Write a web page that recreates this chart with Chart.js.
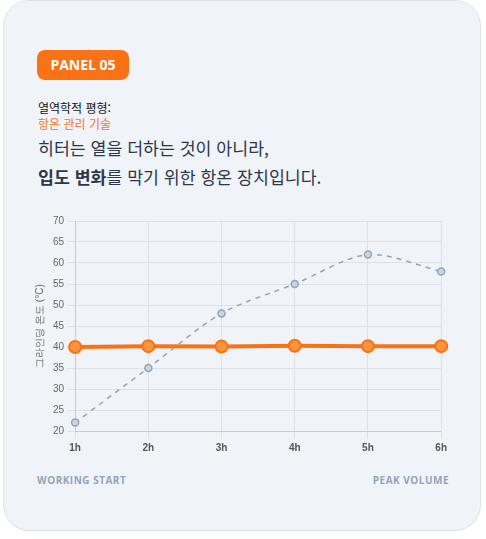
<!DOCTYPE html>
<html lang="ko">
<head>
<meta charset="UTF-8">
<title>Panel 05</title>
<script src="https://cdn.jsdelivr.net/npm/chart.js"></script>
<style>
  body { margin: 0; background: #fff; font-family: "Noto Sans CJK KR", "Noto Sans", sans-serif; }
  .card { position: absolute; left: 3px; top: 0; width: 478px; height: 531px; background: #f0f4f9;
          border: 1px solid #dde3ea; border-radius: 26px; box-sizing: border-box; }
  .badge { position: absolute; left: 33px; top: 49px; width: 92px; height: 30px; background: #f97316; color: #fff;
           border-radius: 8px; font: bold 14px "Open Sans", sans-serif; text-align: center; line-height: 30px; }
  .t1 { position: absolute; left: 34px; top: 98px; font-size: 12px; color: #111; }
  .t2 { position: absolute; left: 34px; top: 114px; font-size: 12px; color: #f97316; }
  .t3 { position: absolute; left: 34px; top: 132px; font-size: 17.3px; color: #2d3748; line-height: 29px; }
  .foot { position: absolute; top: 472px; font: bold 10px "Open Sans", sans-serif; color: #94a3b8; letter-spacing: 0.5px; }
  #wrap { position: absolute; left: 30px; top: 212px; width: 420px; height: 245px; }
</style>
</head>
<body>
<div class="card">
  <div class="badge">PANEL 05</div>
  <div class="t1">열역학적 평형:</div>
  <div class="t2">항온 관리 기술</div>
  <div class="t3">히터는 열을 더하는 것이 아니라,<br><b>입도 변화</b>를 막기 위한 항온 장치입니다.</div>
  <div class="foot" style="left:33px">WORKING START</div>
  <div class="foot" style="right:31px">PEAK VOLUME</div>
</div>
<div id="wrap"><canvas id="c"></canvas></div>
<script>
var hours = ['1h', '2h', '3h', '4h', '5h', '6h'];
var heaterTemp = [40, 40.2, 40.1, 40.3, 40.2, 40.2];
var ambientTemp = [22, 35, 48, 55, 62, 58];

new Chart(document.getElementById('c'), {
  type: 'line',
  data: {
    labels: hours,
    datasets: [
      { label: 'heater', data: heaterTemp, borderColor: '#f97316', backgroundColor: '#f97316',
        borderWidth: 4, pointRadius: 6, pointBorderWidth: 2, pointBackgroundColor: '#fb923c', tension: 0 },
      { label: 'ambient', data: ambientTemp, borderColor: '#94a3b8', backgroundColor: '#cbd5e1',
        borderWidth: 1.5, borderDash: [5, 5], pointRadius: 3.5, pointBorderWidth: 1.5, tension: 0.3 }
    ]
  },
  options: {
    responsive: true, maintainAspectRatio: false, animation: false,
    plugins: { legend: { display: false }, tooltip: { enabled: false } },
    scales: {
      x: { grid: { color: '#dde2e8' }, ticks: { color: '#555', font: { size: 10, weight: 'bold' } } },
      y: { min: 20, max: 70, ticks: { stepSize: 5, color: '#666', font: { size: 10 } }, grid: { color: '#dde2e8' },
           title: { display: true, text: '그라인딩 온도 (°C)', color: '#666', font: { size: 10 } } }
    }
  }
});
</script>
</body>
</html>
